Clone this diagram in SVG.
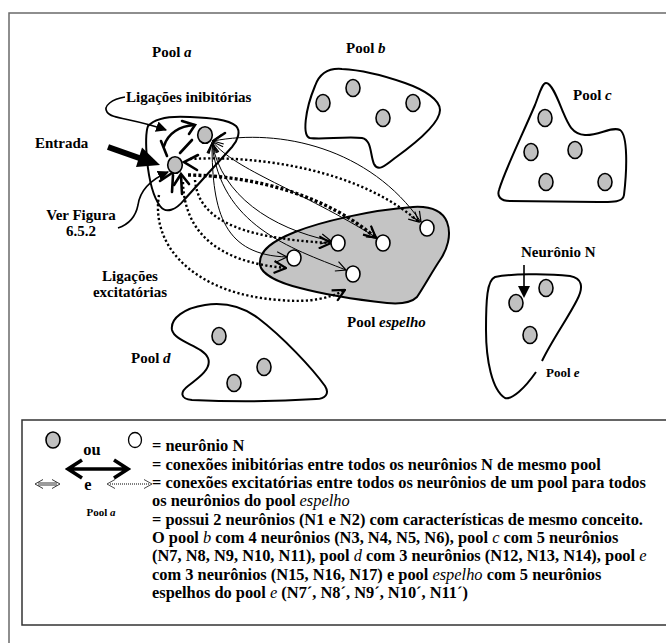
<svg xmlns="http://www.w3.org/2000/svg" width="666" height="643" viewBox="0 0 666 643">
<style>
text{font-family:'Liberation Serif','Times New Roman','DejaVu Serif',serif;font-weight:bold;fill:#000}
.lb{font-size:15px}
.lg{font-size:16.4px}
.it{font-style:italic}
.itn{font-style:italic;font-weight:normal}
.pool{fill:#fff;stroke:#000;stroke-width:2}
.mir{fill:#c4c4c4;stroke:#000;stroke-width:2}
.n{fill:#c0c0c0;stroke:#000;stroke-width:1.6}
.w{fill:#fff;stroke:#000;stroke-width:1.6}
.thin{fill:none;stroke:#000;stroke-width:1}
.dot{fill:none;stroke:#000;stroke-width:2.4;stroke-dasharray:2.2 2.4}
.dotk{fill:none;stroke:#000;stroke-width:3.4;stroke-dasharray:3 2.2}
.inh{fill:none;stroke:#000;stroke-width:2.6;stroke-linecap:round}
.ldr{fill:none;stroke:#000;stroke-width:1.6}
</style>
<defs>
<marker id="ah" viewBox="0 0 12 12" refX="11" refY="6" markerWidth="12" markerHeight="12" markerUnits="userSpaceOnUse" orient="auto-start-reverse">
<path d="M1,1 L11,6 L1,11" fill="none" stroke="#000" stroke-width="1.2"/>
</marker>
<marker id="ahk" viewBox="0 0 14 14" refX="13" refY="7" markerWidth="14" markerHeight="14" markerUnits="userSpaceOnUse" orient="auto-start-reverse">
<path d="M1,1 L13,7 L1,13" fill="none" stroke="#000" stroke-width="2.2"/>
</marker>
<marker id="tri" viewBox="0 0 10 10" refX="9" refY="5" markerWidth="11" markerHeight="11" markerUnits="userSpaceOnUse" orient="auto">
<path d="M0,0 L10,5 L0,10 Z" fill="#000"/>
</marker>
</defs>
<rect x="0" y="0" width="666" height="643" fill="#fff"/>
<rect x="9" y="13" width="720" height="700" fill="#fff" stroke="#6a6a6a" stroke-width="1.5"/>
<g font-family="'Liberation Serif', 'Times New Roman', 'DejaVu Serif', serif">
<!-- pools -->
<g id="pool-b">
<path class="pool" d="M315,86 C320,72 330,68 342,69 C362,70 385,76 405,83 C425,90 440,100 440,110 C440,122 420,140 395,158 C385,166 378,172 374,164 C370,155 372,140 362,138 C345,136 322,140 310,138 C302,136 305,110 315,86 Z"/>
<ellipse class="n" cx="323" cy="103" rx="7" ry="8.5"/>
<ellipse class="n" cx="353" cy="88" rx="7" ry="8.5"/>
<ellipse class="n" cx="383" cy="118" rx="7" ry="8.5"/>
<ellipse class="n" cx="413" cy="103" rx="7" ry="8.5"/>
<text class="lb" x="346" y="53">Pool <tspan class="it">b</tspan></text>
</g>
<g id="pool-c">
<path class="pool" d="M546,83 C552,83 558,100 563,112 C568,124 572,134 585,135 C598,136 612,126 620,130 C628,135 627,170 624,195 C623,203 610,202 598,202 L510,201 C500,201 497,196 499,190 C505,170 520,140 535,105 C539,95 542,83 546,83 Z"/>
<ellipse class="n" cx="545" cy="118" rx="7" ry="8.5"/>
<ellipse class="n" cx="531" cy="152" rx="7" ry="8.5"/>
<ellipse class="n" cx="575" cy="150" rx="7" ry="8.5"/>
<ellipse class="n" cx="546" cy="182" rx="7" ry="8.5"/>
<ellipse class="n" cx="605" cy="182" rx="7" ry="8.5"/>
<text class="lb" x="573" y="100">Pool <tspan class="it">c</tspan></text>
</g>
<g id="pool-d">
<path class="pool" d="M172,330 C170,318 185,308 205,305 C225,302 243,307 258,318 C283,337 312,368 325,386 C330,394 325,399 316,399 C285,401 235,402 192,400 C180,399 180,392 188,386 C200,377 212,368 208,358 C203,346 175,342 172,330 Z"/>
<ellipse class="n" cx="219" cy="336" rx="7" ry="8.5"/>
<ellipse class="n" cx="264" cy="367" rx="7" ry="8.5"/>
<ellipse class="n" cx="234" cy="383" rx="7" ry="8.5"/>
<text class="lb" x="131" y="363">Pool <tspan class="it">d</tspan></text>
</g>
<g id="pool-e">
<path class="pool" d="M542,361 C552,340 568,318 577,300 C584,287 582,278 570,276 C545,273 510,274 495,277 C487,280 486,300 486,330 C486,360 492,390 505,398 C512,400 525,388 536,372"/>
<ellipse class="n" cx="546" cy="288" rx="7" ry="8.5"/>
<ellipse class="n" cx="516" cy="303" rx="7" ry="8.5"/>
<ellipse class="n" cx="530" cy="335" rx="7" ry="8.5"/>
<text x="546" y="377" style="font-size:13px">Pool <tspan class="it">e</tspan></text>
<text class="lb" x="521" y="257">Neurônio N</text>
</g>
<g id="pool-espelho">
<path class="mir" d="M260,265 C258,250 275,240 295,232 C320,222 370,210 413,207 C430,206 442,210 447,222 C452,235 447,250 440,260 C432,272 425,285 417,297 C410,304 398,304 387,303 C360,300 330,296 300,288 C280,283 262,275 260,265 Z"/>
<text class="lb" x="347" y="327">Pool <tspan class="it">espelho</tspan></text>
</g>
<g id="pool-a">
<path class="pool" d="M148,126 C156,117 175,116 190,117 C210,118 228,119 236,126 C241,131 238,140 232,147 L184,200 C176,210 166,214 160,206 C152,195 149,180 147,160 C146,148 145,134 148,126 Z"/>
<text class="lb" x="152" y="57">Pool <tspan class="it">a</tspan></text>
</g>

<!-- labels -->
<g id="labels">
<text class="lb" x="126" y="102">Ligações inibitórias</text>
<text class="lb" x="35" y="148">Entrada</text>
<text class="lb" x="81" y="220" text-anchor="middle">Ver Figura</text>
<text class="lb" x="81" y="236" text-anchor="middle">6.5.2</text>
<text class="lb" x="130" y="281" text-anchor="middle">Ligações</text>
<text class="lb" x="130" y="297" text-anchor="middle">excitatórias</text>
</g>

<!-- connectors -->
<g id="connectors">
<path class="ldr" d="M125,97 C112,99 103,106 107,112 C111,119 132,118 166,130" marker-end="url(#tri)"/>
<path class="ldr" d="M118,228 C130,224 136,215 138,205 C140,190 150,180 168,172" marker-end="url(#tri)"/>
<line x1="108" y1="147" x2="142" y2="159" stroke="#000" stroke-width="6"/>
<polygon points="160,165 142,147.5 136,167" fill="#000"/>
<line x1="524" y1="265" x2="524" y2="288" stroke="#000" stroke-width="1.6"/>
<polygon points="518,286 530,286 524,298" fill="#000"/>

<path class="thin" d="M213,141 C280,128 370,148 421,222" marker-start="url(#ah)" marker-end="url(#ah)"/>
<path class="thin" d="M213,142 C235,170 300,190 377,238" marker-start="url(#ah)" marker-end="url(#ah)"/>
<path class="thin" d="M212,143 C222,195 270,228 331,241" marker-start="url(#ah)" marker-end="url(#ah)"/>
<path class="thin" d="M212,143 C212,215 225,255 287,257" marker-start="url(#ah)" marker-end="url(#ah)"/>
<path class="thin" d="M212,143 C220,225 290,248 346,270" marker-start="url(#ah)" marker-end="url(#ah)"/>

<path class="dot" d="M190,159 C260,155 360,170 419,222" marker-end="url(#ah)"/>
<path class="dotk" d="M188,175 C260,176 330,198 376,238" marker-end="url(#ahk)"/>
<path class="dot" d="M195,180 C198,215 230,238 331,243" marker-end="url(#ahk)"/>
<path class="dot" d="M183,182 C184,230 215,262 286,268" marker-end="url(#ahk)"/>
<path class="dot" d="M159,195 C150,250 200,295 280,300 C310,303 330,298 345,290" marker-end="url(#ahk)"/>

<path class="inh" d="M164,146 C168,133 180,126 194,125"/>
<path class="inh" d="M182,121 L195,125 L189,134"/>
<path class="inh" d="M192,140 L180,153"/>
<path class="inh" d="M161,141 L167,156"/>
<path class="inh" d="M198,155 L184,162 L197,170"/>
<path class="inh" d="M172,192 L173,175"/>
<path class="inh" d="M182,194 L181,175"/>
<path class="inh" d="M174,185 L181,174 L189,184"/>
<path class="inh" d="M160,181 L172,173"/>
<path class="inh" d="M225,133 L213,141"/>
</g>

<!-- neurons drawn above connectors -->
<g id="pool-a-neurons">
<ellipse class="n" cx="205" cy="135" rx="7.3" ry="8.3"/>
<ellipse class="n" cx="175" cy="165" rx="7.3" ry="8.3"/>
</g>
<g id="pool-espelho-neurons">
<ellipse class="w" cx="338" cy="243" rx="7" ry="8"/>
<ellipse class="w" cx="383" cy="243" rx="7" ry="8"/>
<ellipse class="w" cx="427" cy="228" rx="7" ry="8"/>
<ellipse class="w" cx="294" cy="258" rx="7" ry="8"/>
<ellipse class="w" cx="353" cy="274" rx="7" ry="8"/>
</g>

<!-- legend -->
<g id="legend">
<rect x="22" y="420" width="720" height="205" fill="none" stroke="#333" stroke-width="1.5"/>
<ellipse class="n" cx="53" cy="440" rx="7" ry="8"/>
<text class="lg" x="92" y="455" text-anchor="middle">ou</text>
<ellipse class="w" cx="135" cy="440" rx="6.5" ry="7.5" style="stroke-width:1.3"/>
<path d="M68,469 L128,469 M82,460 L68,469 L82,478 M114,460 L128,469 L114,478" fill="none" stroke="#000" stroke-width="3.6"/>
<path d="M43,479.5 L35,484 L43,488.5 M52,479.5 L60,484 L52,488.5 M38,483 L57,483 M38,485 L57,485" fill="none" stroke="#222" stroke-width="0.9"/>
<text class="lg" x="88" y="490" text-anchor="middle">e</text>
<path d="M115,479.5 L107,484 L115,488.5 M144,479.5 L152,484 L144,488.5" fill="none" stroke="#333" stroke-width="0.9"/>
<path d="M110,484 L149,484" fill="none" stroke="#555" stroke-width="1.4" stroke-dasharray="1 1"/>
<text x="101" y="516" text-anchor="middle" style="font-size:11px">Pool <tspan class="it">a</tspan></text>
<text class="lg" x="152" y="451">= neurônio N</text>
<text class="lg" x="152" y="469.5">= conexões inibitórias entre todos os neurônios N de mesmo pool</text>
<text class="lg" x="152" y="488">= conexões excitatórias entre todos os neurônios de um pool para todos</text>
<text class="lg" x="152" y="506">os neurônios do pool <tspan class="itn">espelho</tspan></text>
<text class="lg" x="152" y="524.5">= possui 2 neurônios (N1 e N2) com características de mesmo conceito.</text>
<text class="lg" x="152" y="543">O pool <tspan class="itn">b</tspan> com 4 neurônios (N3, N4, N5, N6), pool <tspan class="itn">c</tspan> com 5 neurônios</text>
<text class="lg" x="152" y="561">(N7, N8, N9, N10, N11), pool <tspan class="itn">d</tspan> com 3 neurônios (N12, N13, N14), pool <tspan class="itn">e</tspan></text>
<text class="lg" x="152" y="579.5">com 3 neurônios (N15, N16, N17) e pool <tspan class="itn">espelho</tspan> com 5 neurônios</text>
<text class="lg" x="152" y="598">espelhos do pool <tspan class="itn">e</tspan> (N7´, N8´, N9´, N10´, N11´)</text>
</g>
</g>
</svg>
